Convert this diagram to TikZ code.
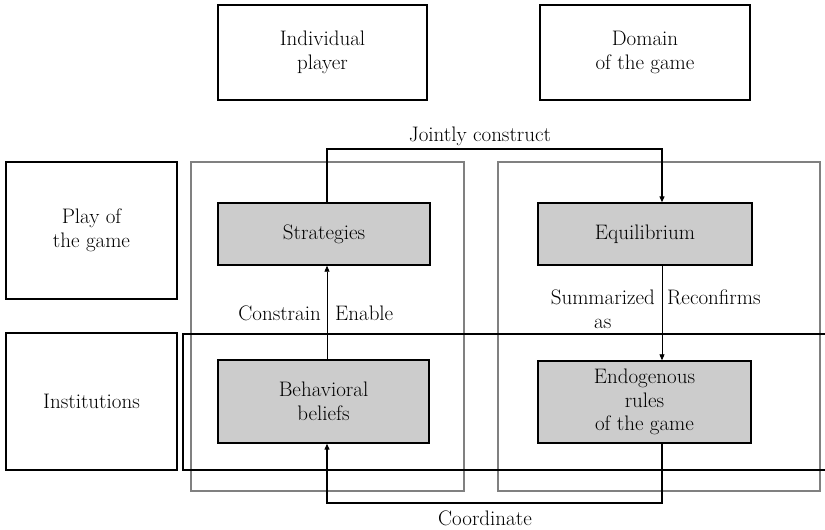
\documentclass[tikz,border=0pt]{standalone}
\usetikzlibrary{arrows.meta}
\begin{document}
\begin{tikzpicture}[x=1pt,y=-1pt,
  every node/.style={font=\fontsize{21}{23.5}\selectfont, align=center, inner sep=0pt},
  plainbox/.style={draw=black, line width=1.4pt, minimum width=#1},
  graybox/.style={draw=black, line width=1.4pt, fill=black!20},
  panel/.style={draw=black!50, line width=1.3pt},
  arr/.style={line width=0.8pt, -{Triangle[length=6pt,width=5pt]}},
  looparr/.style={line width=1.2pt, -{Triangle[length=6pt,width=5pt]}}
]
\useasboundingbox (0,0) rectangle (825,530);

% column and row headings
\node[plainbox=209pt, minimum height=95pt] (indiv) at (322.5,52.5) {Individual\\player};
\node[plainbox=210pt, minimum height=95pt] (domain) at (645,52.5) {Domain\\of the game};
\node[plainbox=171pt, minimum height=137pt] (play) at (91.5,230.5) {Play of\\the game};
\node[plainbox=171pt, minimum height=137pt] (inst) at (91.5,401.5) {Institutions};

% gray column panels
\node[panel, minimum width=273pt, minimum height=329pt] (colL) at (327.5,326.5) {};
\node[panel, minimum width=322pt, minimum height=329pt] (colR) at (659,326.5) {};

% institutions row band (runs off the right edge)
\begin{scope}
  \clip (0,0) rectangle (825,530);
  \draw[line width=1.4pt] (183,334) rectangle (840,470);
\end{scope}

% content boxes
\node[graybox, minimum width=212pt, minimum height=62pt] (strat) at (324,234) {Strategies};
\node[graybox, minimum width=214pt, minimum height=62pt] (equi) at (645,234) {Equilibrium};
\node[graybox, minimum width=211pt, minimum height=83pt] (beh) at (323.5,401.5) {Behavioral\\beliefs};
\node[graybox, minimum width=213pt, minimum height=82pt] (endo) at (644.5,402) {Endogenous\\rules\\of the game};

% connector guide lines
\coordinate (lx) at (327,0);
\coordinate (rx) at (662,0);
\coordinate (jtop) at (0,149);
\coordinate (cbot) at (0,503);

% Jointly construct
\draw[looparr] (strat.north -| lx) -- (jtop -| lx) -- (jtop -| rx) -- (equi.north -| rx);
\node (jlab) at (480,136) {Jointly construct};

% Constrain / Enable
\draw[arr] (beh.north -| lx) -- (strat.south -| lx);
\node[anchor=east] (constr) at (321,313) {Constrain};
\node[anchor=west] (enable) at (335,313) {Enable};

% Summarized as / Reconfirms
\draw[arr] (equi.south -| rx) -- (endo.north -| rx);
\node[anchor=east] (summ) at (655,309) {Summarized\\as};
\node[anchor=west] (reconf) at (667,297) {Reconfirms};

% Coordinate
\draw[looparr] (endo.south -| rx) -- (cbot -| rx) -- (cbot -| lx) -- (beh.south -| lx);
\node (coord) at (485,518) {Coordinate};
\end{tikzpicture}
\end{document}
